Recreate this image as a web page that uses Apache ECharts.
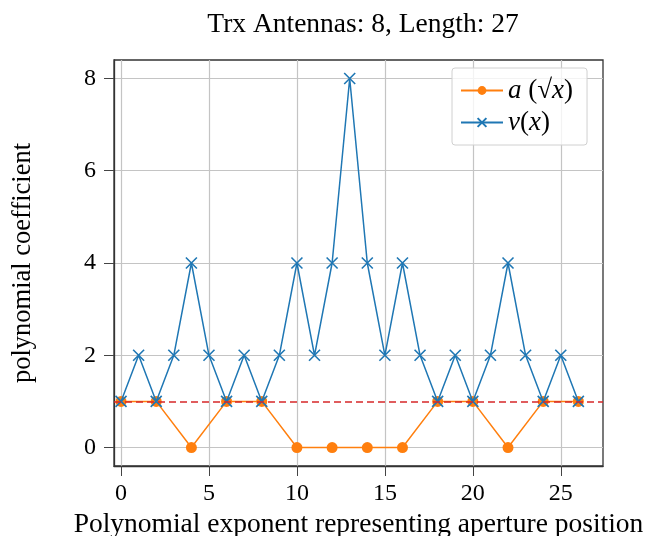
<!DOCTYPE html>
<html>
<head>
<meta charset="utf-8">
<script src="https://cdn.jsdelivr.net/npm/echarts@6/dist/echarts.min.js"></script>
<style>html,body{margin:0;padding:0;background:#fff}#c{width:658px;height:536px}</style>
</head>
<body>
<div id="c"></div>
<script>
const titleText = 'Trx Antennas: 8, Length: 27';
const xName = 'Polynomial exponent representing aperture position';
const yName = 'polynomial coefficient';
const vX = [0,1,2,3,4,5,6,7,8,9,10,11,12,13,14,15,16,17,18,19,20,21,22,23,24,25,26];
const vVals = [1,2,1,2,4,2,1,2,1,2,4,2,4,8,4,2,4,2,1,2,1,2,4,2,1,2,1];
const aX = [0,2,4,6,8,10,12,14,16,18,20,22,24,26];
const aVals = [1,1,0,1,1,0,0,0,0,1,1,0,1,1];
const refLevel = 1;
const xTicks = [0,5,10,15,20,25];
const yTicks = [0,2,4,6,8];

const FONT = 'Liberation Serif';
const chart = echarts.init(document.getElementById('c'), null, {renderer:'canvas'});
const xSym = 'path://M0,0L10,10M10,0L0,10';
chart.setOption({
  animation:false,
  backgroundColor:'#fff',
  title:{text:titleText,left:358,textAlign:'center',top:6,textStyle:{fontFamily:FONT,fontSize:27.5,fontWeight:'normal',color:'#000'}},
  grid:{left:114,top:60,right:55,bottom:70,show:true,borderColor:'#333',borderWidth:1.3,backgroundColor:'transparent',containLabel:false,outerBoundsMode:'none'},
  legend:{
    orient:'vertical',left:452,top:68,
    data:['a','v'],
    backgroundColor:'rgba(255,255,255,0.8)',borderColor:'#d0d0d0',borderWidth:1,borderRadius:3,
    padding:[9,14,9,8],itemWidth:42,itemHeight:11,itemGap:5,
    formatter:function(n){return n==='a'?'{i|a} (√{i|x})':'{i|v}({i|x})';},
    textStyle:{fontFamily:FONT,fontSize:27,lineHeight:27,color:'#000',rich:{i:{fontFamily:FONT,fontSize:27,lineHeight:27,fontStyle:'italic',color:'#000'}}}
  },
  xAxis:{
    type:'value',min:-0.4,max:27.4,
    name:xName,nameLocation:'middle',nameGap:37,
    nameTextStyle:{fontFamily:FONT,fontSize:27.5,color:'#000'},
    axisLine:{show:true,onZero:false,lineStyle:{color:'#333',width:1.3}},
    axisTick:{show:true,length:10,customValues:xTicks,lineStyle:{color:'#444',width:1}},
    axisLabel:{customValues:xTicks,margin:16,fontFamily:FONT,fontSize:24,color:'#000'},
    splitLine:{show:true,lineStyle:{color:'#c4c4c4',width:1.2}}
  },
  yAxis:{
    type:'value',min:-0.4,max:8.4,
    name:yName,nameLocation:'middle',nameGap:77,
    nameTextStyle:{fontFamily:FONT,fontSize:26.5,color:'#000'},
    axisLine:{show:true,onZero:false,lineStyle:{color:'#333',width:1.3}},
    axisTick:{show:true,length:10,customValues:yTicks,lineStyle:{color:'#444',width:1}},
    axisLabel:{customValues:yTicks,margin:18,fontFamily:FONT,fontSize:24,color:'#000'},
    splitLine:{show:true,lineStyle:{color:'#c4c4c4',width:1.2}}
  },
  series:[
    {name:'a',type:'line',z:2,data:aX.map((x,i)=>[x,aVals[i]]),
     symbol:'circle',symbolSize:11,showAllSymbol:true,
     itemStyle:{color:'#ff7f0e'},lineStyle:{color:'#ff7f0e',width:1.5}},
    {name:'v',type:'line',z:3,data:vX.map((x,i)=>[x,vVals[i]]),
     symbol:xSym,symbolSize:11,showAllSymbol:true,
     itemStyle:{color:'#1f77b4',borderColor:'#1f77b4',borderWidth:1.6},lineStyle:{color:'#1f77b4',width:1.5},
     markLine:{silent:true,symbol:'none',label:{show:false},lineStyle:{color:'#d62728',type:[7,4],width:1.5},data:[{yAxis:refLevel}]}}
  ]
});
</script>
</body>
</html>
